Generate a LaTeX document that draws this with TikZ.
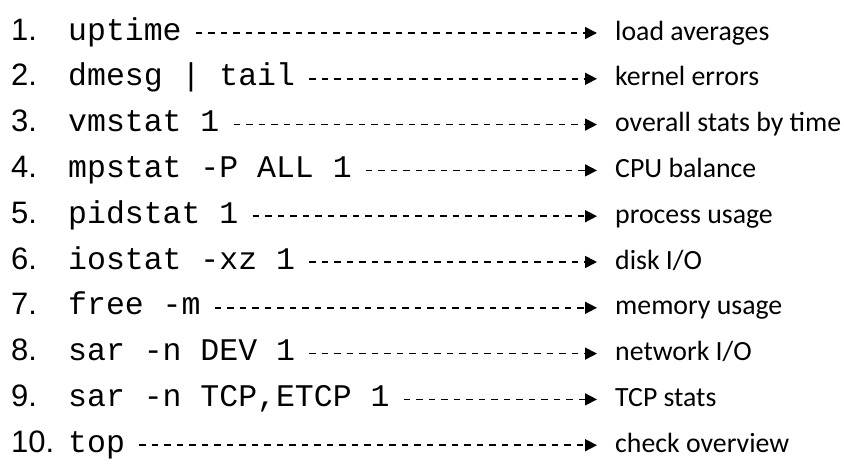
\documentclass[tikz,border=0pt]{standalone}
\usepackage{fontspec}
\setmonofont{Liberation Mono}
\newfontfamily\numfont{Liberation Sans}
\newfontfamily\lblfont{Carlito}
\usetikzlibrary{arrows.meta}

\begin{document}
\begin{tikzpicture}[
		x=1pt, y=-1pt,
		num/.style={anchor=base west, inner sep=0pt, font=\numfont\fontsize{31}{31}\selectfont},
		cmd/.style={anchor=base west, inner sep=0pt, font=\ttfamily\fontsize{31.5}{31.5}\selectfont},
		lbl/.style={anchor=base west, inner sep=0pt, font=\lblfont\fontsize{27.8}{27.8}\selectfont},
		conn/.style={line width=1.6pt, dash pattern=on 6.5pt off 6pt, -{Triangle[length=12pt,width=12pt]}, shorten <=14pt, shorten >=18pt}
		]
		\useasboundingbox (0,0) rectangle (844,472);
		
		% ===== 10 commands, one per row =====
		\foreach \cmdtext/\labtext [count=\i from 1] in {uptime/load averages, dmesg | tail/kernel errors, vmstat 1/overall stats by time, mpstat -P ALL 1/CPU balance, pidstat 1/process usage, iostat -xz 1/{disk I/O}, free -m/memory usage, sar -n DEV 1/{network I/O}, {sar -n TCP,ETCP 1}/TCP stats, top/check overview}{
			\coordinate (r\i) at (0,{33+(\i-1)*45.8});
			\node[num] (n\i) at (11,{40+(\i-1)*45.8}) {\i.};
			\node[cmd] (c\i) at (68,{40+(\i-1)*45.8}) {\cmdtext};
			\node[lbl] (l\i) at (615,{40+(\i-1)*45.8}) {\labtext};
			
			% ===== dashed arrow =====
			\draw[conn] (c\i.east |- r\i) -- (l\i.west |- r\i);
		}
		
	\end{tikzpicture}
\end{document}
